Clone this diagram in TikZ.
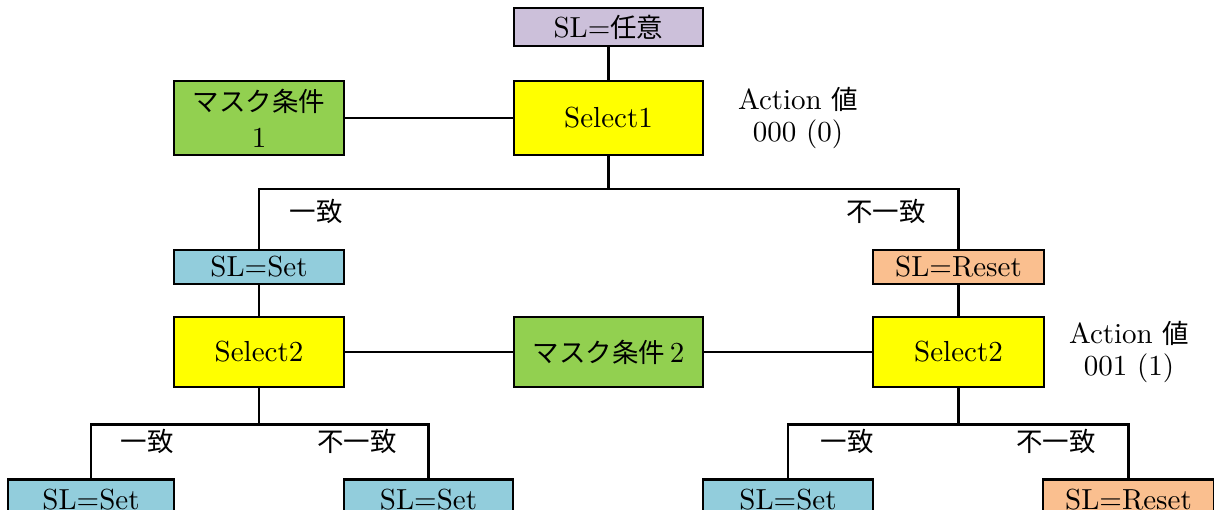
\documentclass[tikz,border=0pt]{standalone}
\usepackage{fontspec}
\setmainfont{lmroman10-regular}[Extension=.otf]
\newfontfamily\cjk{Noto Sans CJK JP}
\definecolor{cpurple}{HTML}{CCC0DA}
\definecolor{cyellow}{HTML}{FFFF00}
\definecolor{cgreen}{HTML}{92D050}
\definecolor{cblue}{HTML}{92CDDC}
\definecolor{corange}{HTML}{FABF8F}
\newcommand{\jp}[1]{{\cjk\fontsize{26.5}{31}\selectfont #1}}
\begin{document}
\begin{tikzpicture}[x=1pt,y=-1pt,
  box/.style={draw, line width=2.6pt, inner sep=0pt, anchor=center, align=center,
    font=\fontsize{29}{31}\selectfont},
  wire/.style={line width=2.4pt},
  lbl/.style={inner sep=0pt, anchor=center, align=center, font=\fontsize{29}{32}\selectfont}]
\useasboundingbox (0,0) rectangle (1214,510);
\clip (0,0) rectangle (1214,510);
\fill[white] (0,0) rectangle (1214,510);
% nodes
\node[box, fill=cpurple, minimum width=189pt, minimum height=38pt] (top) at (608.5,27) {SL=\jp{任意}};
\node[box, fill=cyellow, minimum width=189pt, minimum height=74pt] (sel1) at (608.5,118) {Select1};
\node[box, fill=cgreen, minimum width=170pt, minimum height=74pt, font=\fontsize{29}{36}\selectfont] (m1) at (259,118) {\jp{マスク条件}\\1};
\node[lbl] (act1) at (798,118) {Action \jp{値}\\000 (0)};
\node[box, fill=cblue, minimum width=170pt, minimum height=34pt] (setL) at (259,267) {SL=Set};
\node[box, fill=corange, minimum width=171pt, minimum height=34pt] (resetR) at (958.5,267) {SL=Reset};
\node[box, fill=cyellow, minimum width=170pt, minimum height=70pt] (sel2L) at (259,352) {Select2};
\node[box, fill=cgreen, minimum width=189pt, minimum height=70pt] (m2) at (608.5,352) {\jp{マスク条件}\,2};
\node[box, fill=cyellow, minimum width=171pt, minimum height=70pt] (sel2R) at (958.5,352) {Select2};
\node[lbl] (act2) at (1129,352) {Action \jp{値}\\001 (1)};
\node[box, fill=cblue, minimum width=166pt, minimum height=50pt, anchor=north] (b1) at (91,478) {\raisebox{11pt}{SL=Set}};
\node[box, fill=cblue, minimum width=169pt, minimum height=50pt, anchor=north] (b2) at (428.5,478) {\raisebox{11pt}{SL=Set}};
\node[box, fill=cblue, minimum width=170pt, minimum height=50pt, anchor=north] (b3) at (788,478) {\raisebox{11pt}{SL=Set}};
\node[box, fill=corange, minimum width=171pt, minimum height=50pt, anchor=north] (b4) at (1128.5,478) {\raisebox{11pt}{SL=Reset}};
% labels
\node[lbl] (l1) at (316,211) {\jp{一致}};
\node[lbl] (l2) at (886,211) {\jp{不一致}};
\node[lbl] (l3) at (147,441) {\jp{一致}};
\node[lbl] (l4) at (357,441) {\jp{不一致}};
\node[lbl] (l5) at (847,441) {\jp{一致}};
\node[lbl] (l6) at (1056,441) {\jp{不一致}};
% connectors
\draw[wire] (top) -- (sel1);
\draw[wire] (m1) -- (sel1);
\draw[wire] (sel1.south) -- ++(0,33) coordinate (j1);
\draw[wire] (j1) -| (setL.north);
\draw[wire] (j1) -| (resetR.north);
\draw[wire] (setL) -- (sel2L);
\draw[wire] (resetR) -- (sel2R);
\draw[wire] (sel2L) -- (m2);
\draw[wire] (m2) -- (sel2R);
\draw[wire] (sel2L.south) -- ++(0,36) coordinate (j2);
\draw[wire] (j2) -| (b1.north);
\draw[wire] (j2) -| (b2.north);
\draw[wire] (sel2R.south) -- ++(0,36) coordinate (j3);
\draw[wire] (j3) -| (b3.north);
\draw[wire] (j3) -| (b4.north);
\end{tikzpicture}
\end{document}
